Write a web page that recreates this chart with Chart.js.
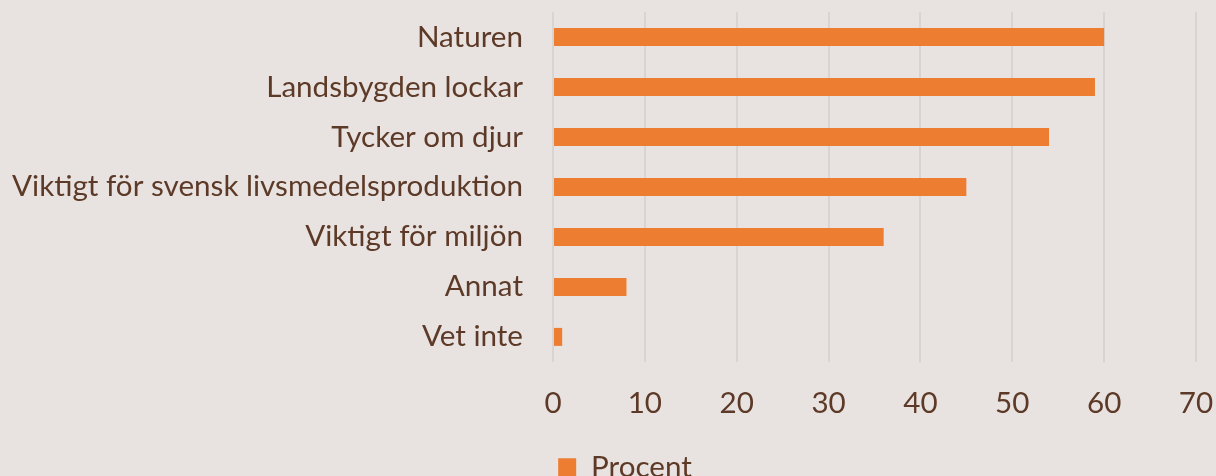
<!DOCTYPE html>
<html><head><meta charset="utf-8">
<script src="https://cdn.jsdelivr.net/npm/chart.js@4"></script>
<style>html,body{margin:0;padding:0;background:#e8e3e1;}#wrap{width:1216px;height:476px;}</style>
</head><body><div id="wrap"><canvas id="c" width="1216" height="476"></canvas></div>
<script>
const categories = ["Naturen","Landsbygden lockar","Tycker om djur","Viktigt för svensk livsmedelsproduktion","Viktigt för miljön","Annat","Vet inte"];
const procent = [60, 59, 54, 45, 36, 8, 1];
const seriesName = "Procent";
const textColor = "#5d3a27";
Chart.defaults.font.family = "Lato, 'Open Sans', sans-serif";
const legendShift = {
  id: 'legendShift',
  afterLayout(chart) { if (chart.legend) { chart.legend.left += 44; } }
};
new Chart(document.getElementById('c'), {
  type: 'bar',
  data: { labels: categories, datasets: [{ label: seriesName, data: procent, backgroundColor: '#ed7d31', borderWidth: 0, barPercentage: 0.72, categoryPercentage: 0.5 }] },
  options: {
    indexAxis: 'y', responsive: false, animation: false,
    layout: { padding: { top: 12, right: 20, left: 10, bottom: -16 } },
    scales: {
      x: { min: 0, max: 70, ticks: { stepSize: 10, color: textColor, font: { size: 29.6 }, padding: 24 },
           grid: { color: '#d8d4d3', lineWidth: 2, drawTicks: false }, border: { display: false },
           afterFit(s) { s.paddingLeft = 0; s.paddingRight = 0; } },
      y: { ticks: { color: textColor, font: { size: 29.6 }, padding: 30 }, grid: { display: false, drawTicks: false }, border: { display: false },
           afterFit(s) { s.width = 543; s.paddingTop = 0; s.paddingBottom = 0; } }
    },
    plugins: {
      legend: { position: 'bottom', labels: { color: textColor, font: { size: 29.6 }, boxWidth: 18, boxHeight: 18, padding: 7 } },
      tooltip: { enabled: false }
    }
  },
  plugins: [legendShift]
});
</script></body></html>
